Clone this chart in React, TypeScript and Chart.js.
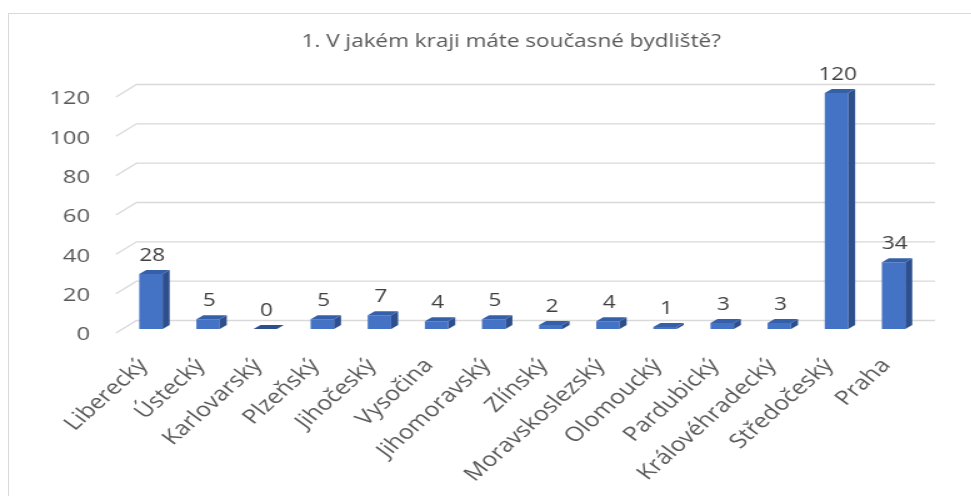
import React, { useEffect, useRef } from 'react';
import { Chart, registerables } from 'chart.js';

Chart.register(...registerables);

// ---- data ----
const title = '1. V jakém kraji máte současné bydliště?';
const categories = [
  'Liberecký', 'Ústecký', 'Karlovarský', 'Plzeňský', 'Jihočeský', 'Vysočina',
  'Jihomoravský', 'Zlínský', 'Moravskoslezský', 'Olomoucký', 'Pardubický',
  'Královéhradecký', 'Středočeský', 'Praha',
];
const counts = [28, 5, 0, 5, 7, 4, 5, 2, 4, 1, 3, 3, 120, 34];
const yTicks = [0, 20, 40, 60, 80, 100, 120];

// ---- styling ----
const SX = 1.25; // horizontal stretch of the original picture
const W = 818;
const H = 496;
const FRONT = '#4472C4';
const SIDE = '#2D4F8E';
const TOP = '#365FA9';
const DX = 5.6;
const DY = 4;
const FONT = '"Open Sans", "Noto Sans", sans-serif';

const frame3d = {
  id: 'frame3d',
  beforeDatasetsDraw(chart: any) {
    const ctx = chart.ctx;
    const ys = chart.scales.y;
    ctx.save();
    ctx.strokeStyle = '#D9D9D9';
    ctx.lineWidth = 1.3;
    yTicks.forEach((v) => {
      const f = ys.getPixelForValue(v);
      ctx.beginPath();
      ctx.moveTo(92.8, f + 4);
      ctx.lineTo(109.2, f - 8.5);
      ctx.lineTo(748, f - 8.5);
      ctx.stroke();
    });
    ctx.restore();
  },
  afterDatasetsDraw(chart: any) {
    const ctx = chart.ctx;
    const meta = chart.getDatasetMeta(0);
    ctx.save();
    meta.data.forEach((bar: any, i: number) => {
      const { x, y, base, width } = bar.getProps(['x', 'y', 'base', 'width'], true);
      const l = x - width / 2;
      const r = x + width / 2;
      if (base - y > 0.5) {
        ctx.fillStyle = SIDE;
        ctx.beginPath();
        ctx.moveTo(r, y);
        ctx.lineTo(r + DX, y - DY);
        ctx.lineTo(r + DX, base - DY);
        ctx.lineTo(r, base);
        ctx.closePath();
        ctx.fill();
      }
      ctx.fillStyle = base - y > 0.5 ? TOP : SIDE;
      ctx.beginPath();
      ctx.moveTo(l, y);
      ctx.lineTo(l + DX, y - DY);
      ctx.lineTo(r + DX, y - DY);
      ctx.lineTo(r, y);
      ctx.closePath();
      ctx.fill();

      ctx.fillStyle = '#404040';
      ctx.font = `18px ${FONT}`;
      ctx.textAlign = 'center';
      ctx.textBaseline = 'alphabetic';
      ctx.fillText(String(counts[i]), x + 1, y - DY - 9);
    });
    ctx.restore();
  },
};

export default function App() {
  const ref = useRef<HTMLCanvasElement>(null);

  useEffect(() => {
    if (!ref.current) return;
    const chart = new Chart(ref.current, {
      type: 'bar',
      data: {
        labels: categories,
        datasets: [
          {
            data: counts,
            backgroundColor: FRONT,
            borderWidth: 0,
            barPercentage: 0.41,
            categoryPercentage: 1,
          },
        ],
      },
      options: {
        responsive: false,
        animation: false,
        devicePixelRatio: 1,
        layout: { padding: 0 },
        plugins: {
          legend: { display: false },
          tooltip: { enabled: false },
          title: {
            display: true,
            text: title,
            color: '#595959',
            font: { family: FONT, size: 18, weight: 'normal', lineHeight: 1.2 },
            padding: { top: 31.2, bottom: 40.2 },
          },
        },
        scales: {
          x: {
            grid: { display: false, drawTicks: false },
            border: { display: false },
            ticks: {
              autoSkip: false,
              maxRotation: 48,
              minRotation: 48,
              padding: 25,
              labelOffset: -6,
              color: '#595959',
              font: { family: FONT, size: 20 },
            },
            afterFit: (s: any) => {
              s.height = 167;
            },
          },
          y: {
            min: 0,
            max: 120,
            grid: { display: false, drawTicks: false },
            border: { display: false },
            ticks: {
              stepSize: 20,
              padding: 25.9,
              labelOffset: 6,
              color: '#595959',
              font: { family: FONT, size: 19 },
            },
            afterFit: (s: any) => {
              s.width = 97.9;
            },
          },
          yRight: {
            position: 'right',
            display: true,
            grid: { display: false, drawTicks: false },
            border: { display: false },
            ticks: { display: false },
            afterFit: (s: any) => {
              s.width = 80.3;
            },
          },
        },
      },
      plugins: [frame3d],
    });
    return () => chart.destroy();
  }, []);

  return (
    <div
      style={{
        position: 'fixed',
        left: 0,
        top: 0,
        width: 971,
        height: 496,
        overflow: 'hidden',
        background: '#fff',
      }}
    >
      <div
        style={{
          position: 'absolute',
          left: 8,
          top: 13,
          width: 2000,
          height: 1000,
          borderLeft: '1px solid #D9D9D9',
          borderTop: '1px solid #D9D9D9',
        }}
      />
      <canvas
        ref={ref}
        width={W}
        height={H}
        style={{
          position: 'absolute',
          left: 0,
          top: 0,
          transform: `scaleX(${SX})`,
          transformOrigin: '0 0',
        }}
      />
    </div>
  );
}
